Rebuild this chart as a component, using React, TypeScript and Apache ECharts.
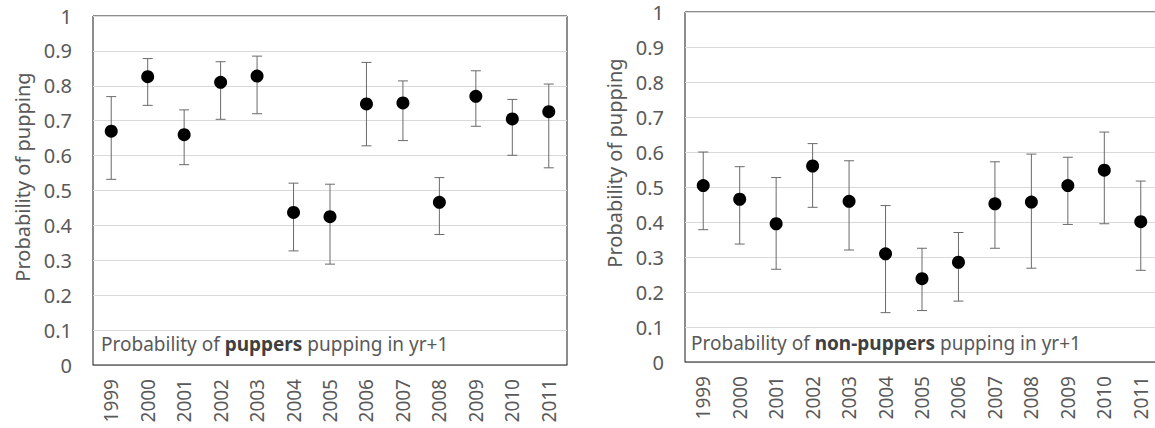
import React, { useEffect, useRef } from "react";
import * as echarts from "echarts";

const years = ["1999", "2000", "2001", "2002", "2003", "2004", "2005", "2006", "2007", "2008", "2009", "2010", "2011"];

const puppersMean = [0.67, 0.826, 0.66, 0.81, 0.828, 0.437, 0.425, 0.748, 0.751, 0.466, 0.77, 0.705, 0.726];
const puppersLow = [0.532, 0.744, 0.574, 0.704, 0.72, 0.327, 0.289, 0.628, 0.643, 0.374, 0.684, 0.601, 0.565];
const puppersHigh = [0.769, 0.878, 0.731, 0.869, 0.885, 0.521, 0.518, 0.867, 0.814, 0.537, 0.843, 0.761, 0.805];

const nonMean = [0.504, 0.465, 0.395, 0.56, 0.459, 0.309, 0.238, 0.285, 0.452, 0.457, 0.504, 0.548, 0.401];
const nonLow = [0.378, 0.337, 0.265, 0.442, 0.32, 0.141, 0.147, 0.174, 0.325, 0.268, 0.393, 0.395, 0.262];
const nonHigh = [0.6, 0.558, 0.527, 0.624, 0.575, 0.447, 0.325, 0.37, 0.572, 0.594, 0.585, 0.657, 0.517];

const axisTitle = "Probability of pupping";
const FONT = "'Noto Sans', sans-serif";
const TXT = "#595959";

function errRender(params: any, api: any) {
  const x = api.value(0);
  const lo = api.value(1);
  const hi = api.value(2);
  const p1 = api.coord([x, hi]);
  const p2 = api.coord([x, lo]);
  const hw = 5;
  const style = { stroke: "#6a6a6a", lineWidth: 1 };
  return {
    type: "group",
    children: [
      { type: "line", shape: { x1: p1[0], y1: p1[1], x2: p2[0], y2: p2[1] }, style },
      { type: "line", shape: { x1: p1[0] - hw, y1: p1[1], x2: p1[0] + hw, y2: p1[1] }, style },
      { type: "line", shape: { x1: p2[0] - hw, y1: p2[1], x2: p2[0] + hw, y2: p2[1] }, style },
    ],
  };
}

export default function App() {
  const ref = useRef<HTMLDivElement>(null);
  useEffect(() => {
    if (!ref.current) return;
    const chart = echarts.init(ref.current, null, { renderer: "svg" });
    const xAxisBase = (gi: number) => ({
      type: "category",
      gridIndex: gi,
      data: years,
      boundaryGap: true,
      axisTick: { show: false },
      axisLine: { show: true, lineStyle: { color: "#7a7a7a", width: 1 } },
      axisLabel: { rotate: 90, margin: 14, color: TXT, fontSize: 19, fontFamily: FONT },
      splitLine: { show: false },
    });
    const yAxisBase = (gi: number) => ({
      type: "value",
      gridIndex: gi,
      min: 0,
      max: 1,
      interval: 0.1,
      axisLine: { show: false },
      axisTick: { show: false },
      axisLabel: {
        margin: 21,
        color: TXT,
        fontSize: 20,
        fontFamily: FONT,
        formatter: (v: number) => String(Math.round(v * 10) / 10),
      },
      splitLine: { show: true, lineStyle: { color: "#d9d9d9", width: 1 } },
    });
    const mk = (arrLo: number[], arrHi: number[]) => years.map((_, i) => [i, arrLo[i], arrHi[i]]);
    const dot = { color: "#000", opacity: 1 };
    chart.setOption({
      animation: false,
      grid: [
        { left: 93, top: 16, width: 474, height: 349, show: true, borderColor: "#1a1a1a", borderWidth: 1, backgroundColor: "transparent" },
        { left: 685, top: 12, width: 474, height: 350, show: true, borderColor: "#1a1a1a", borderWidth: 1, backgroundColor: "transparent" },
      ],
      xAxis: [xAxisBase(0), xAxisBase(1)],
      yAxis: [yAxisBase(0), yAxisBase(1)],
      series: [
        { type: "custom", xAxisIndex: 0, yAxisIndex: 0, renderItem: errRender, data: mk(puppersLow, puppersHigh), z: 3 },
        { type: "scatter", xAxisIndex: 0, yAxisIndex: 0, data: puppersMean, symbol: "circle", symbolSize: 13, itemStyle: dot, z: 4 },
        { type: "custom", xAxisIndex: 1, yAxisIndex: 1, renderItem: errRender, data: mk(nonLow, nonHigh), z: 3 },
        { type: "scatter", xAxisIndex: 1, yAxisIndex: 1, data: nonMean, symbol: "circle", symbolSize: 13, itemStyle: dot, z: 4 },
      ],
      graphic: [
        {
          type: "text",
          x: 22,
          y: 177,
          rotation: Math.PI / 2,
          style: { text: axisTitle, fill: TXT, font: `20px ${FONT}`, textAlign: "center", textVerticalAlign: "middle" },
        },
        {
          type: "text",
          x: 614,
          y: 163,
          rotation: Math.PI / 2,
          style: { text: axisTitle, fill: TXT, font: `20px ${FONT}`, textAlign: "center", textVerticalAlign: "middle" },
        },
        {
          type: "text",
          x: 101,
          y: 344,
          style: {
            text: "{n|Probability of }{b|puppers}{n| pupping in yr+1}",
            textVerticalAlign: "middle",
            rich: {
              n: { fill: TXT, fontSize: 19, fontFamily: FONT },
              b: { fill: "#404040", fontSize: 19, fontFamily: FONT, fontWeight: "bold" },
            },
          },
        },
        {
          type: "text",
          x: 691,
          y: 343,
          style: {
            text: "{n|Probability of }{b|non-puppers}{n| pupping in yr+1}",
            textVerticalAlign: "middle",
            rich: {
              n: { fill: TXT, fontSize: 19, fontFamily: FONT },
              b: { fill: "#404040", fontSize: 19, fontFamily: FONT, fontWeight: "bold" },
            },
          },
        },
      ],
    });
    return () => chart.dispose();
  }, []);
  return (
    <div style={{ position: "absolute", left: 0, top: 0, width: 1155, height: 428, overflow: "hidden", background: "#fff" }}>
      <div ref={ref} style={{ width: 1162, height: 428 }} />
    </div>
  );
}
